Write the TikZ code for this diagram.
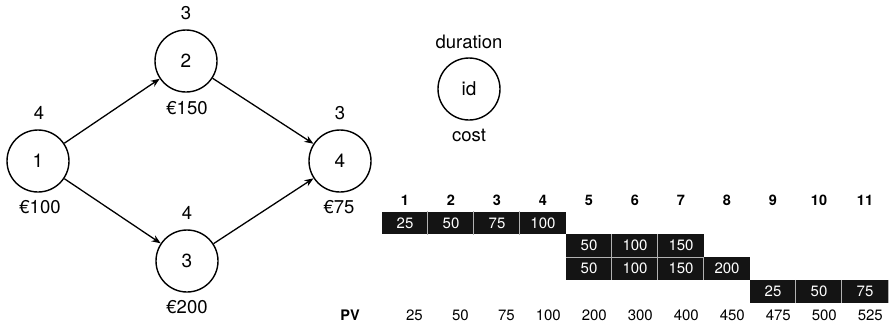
\documentclass[tikz,border=0pt]{standalone}
\usepackage{fontspec}
\setmainfont{TeX Gyre Heros}
\usetikzlibrary{arrows.meta}
\begin{document}
\begin{tikzpicture}[x=1pt,y=-1pt,
  act/.style={circle,draw,line width=1.4pt,minimum size=62pt,inner sep=0pt,font=\fontsize{19}{23}\selectfont},
  lab/.style={inner sep=0pt,font=\fontsize{18.5}{22}\selectfont},
  arr/.style={-{Stealth[length=9pt,width=7pt]},line width=1.3pt},
  cell/.style={fill=black!92,text=white,minimum width=46pt,minimum height=22.8pt,inner sep=0pt,font=\fontsize{15}{18}\selectfont},
  hdr/.style={font=\bfseries\fontsize{14.5}{17}\selectfont,inner sep=0pt},
  pv/.style={font=\fontsize{15}{18}\selectfont,inner sep=0pt,anchor=east},
  sep/.style={draw=gray!60,line width=1pt}]
\useasboundingbox (0,0) rectangle (890,325);
% network
\node[act] (n1) at (38,161) {1};
\node[act] (n2) at (186,61) {2};
\node[act] (n3) at (187,261) {3};
\node[act] (n4) at (340,161) {4};
\node[lab] (d1) at (39,113) {4};
\node[lab] (k1) at (40,207) {€100};
\node[lab] (d2) at (186,13) {3};
\node[lab] (k2) at (187,108) {€150};
\node[lab] (d3) at (187,213) {4};
\node[lab] (k3) at (187,307) {€200};
\node[lab] (d4) at (340,113) {3};
\node[lab] (k4) at (339,207) {€75};
\draw[arr] (n1) -- (n2);
\draw[arr] (n1) -- (n3);
\draw[arr] (n2) -- (n4);
\draw[arr] (n3) -- (n4);
% legend
\node[act] (leg) at (469,89) {id};
\node[lab] (legd) at (469,42) {duration};
\node[lab] (legc) at (469,135) {cost};
% gantt header
\foreach \c in {1,...,11} {
  \node[hdr] (h\c) at ({382+46*\c-23},200) {\c};
}
% cells
\foreach \r/\c/\y/\v in {1/1/223/25,1/2/223/50,1/3/223/75,1/4/223/100,
    2/5/245.5/50,2/6/245.5/100,2/7/245.5/150,
    3/5/268.3/50,3/6/268.3/100,3/7/268.3/150,3/8/268.3/200,
    4/9/291.5/25,4/10/291.5/50,4/11/291.5/75} {
  \node[cell] (r\r c\c) at ({382+46*\c-23},\y) {\v};
}
% separators
\foreach \r/\c in {1/2,1/3,1/4,2/6,2/7,3/6,3/7,3/8,4/10,4/11} {
  \draw[sep] (r\r c\c.north west) -- (r\r c\c.south west);
}
\draw[sep] (r2c5.south west) -- (r2c7.south east);
\draw[sep] (r4c11.north east) -- (r4c11.south east);
% PV row
\node[hdr] (pvl) at (350,315) {PV};
\foreach \c/\v in {1/25,2/50,3/75,4/100,5/200,6/300,7/400,8/450,9/475,10/500,11/525} {
  \node[pv] (p\c) at ({382+46*\c-5},315) {\v};
}
\end{tikzpicture}
\end{document}
